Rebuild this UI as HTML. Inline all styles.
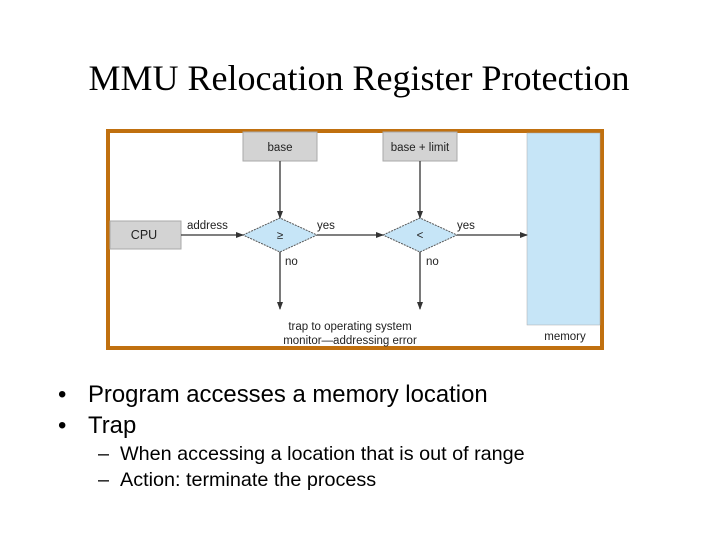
<!DOCTYPE html><html><head><style>body{margin:0;width:720px;height:540px;background:#fff;overflow:hidden;position:relative;font-family:"Liberation Sans",sans-serif}
.t{position:absolute;left:0;width:720px;text-align:center;top:57px;font-family:"Liberation Serif",serif;font-size:36px;margin-left:-1px}
.b{position:absolute;font-size:23.9px}.s{position:absolute;font-size:19.8px}</style></head><body>
<div class="t">MMU Relocation Register Protection</div>
<svg width="720" height="540" style="position:absolute;left:0;top:0" font-family="Liberation Sans, sans-serif" font-size="11.5" fill="#222">
<defs><marker id="a" markerWidth="8" markerHeight="8" refX="7" refY="4" orient="auto" markerUnits="userSpaceOnUse"><path d="M0,1L8,4L0,7z" fill="#333"/></marker></defs>
<rect x="108" y="131" width="494" height="217" fill="#fff" stroke="#c0700f" stroke-width="4"/>
<rect x="527" y="133" width="73" height="192" fill="#c6e5f7" stroke="#aaa" stroke-width="0.5"/>
<rect x="243" y="132" width="74" height="29" fill="#d3d3d3" stroke="#aaa"/>
<rect x="383" y="132" width="74" height="29" fill="#d3d3d3" stroke="#aaa"/>
<rect x="110" y="221" width="71" height="28" fill="#d3d3d3" stroke="#aaa"/>
<polygon points="243,235 280,218 317,235 280,252" fill="#c6e5f7" stroke="#555" stroke-dasharray="2,1"/>
<polygon points="383,235 420,218 457,235 420,252" fill="#c6e5f7" stroke="#555" stroke-dasharray="2,1"/>
<g stroke="#333" stroke-width="1.3" marker-end="url(#a)">
<line x1="280" y1="161" x2="280" y2="218"/><line x1="420" y1="161" x2="420" y2="218"/>
<line x1="181" y1="235" x2="243" y2="235"/><line x1="317" y1="235" x2="383" y2="235"/><line x1="457" y1="235" x2="527" y2="235"/>
<line x1="280" y1="252" x2="280" y2="309"/><line x1="420" y1="252" x2="420" y2="309"/></g>
<text x="280" y="151" text-anchor="middle">base</text><text x="420" y="151" text-anchor="middle">base + limit</text>
<text x="144" y="239" text-anchor="middle" font-size="12.5">CPU</text>
<text x="187" y="229">address</text><text x="317" y="229">yes</text><text x="457" y="229">yes</text>
<text x="285" y="265">no</text><text x="426" y="265">no</text>
<text x="280" y="239" text-anchor="middle">≥</text><text x="420" y="239" text-anchor="middle">&lt;</text>
<text x="350" y="330" text-anchor="middle">trap to operating system</text>
<text x="350" y="344" text-anchor="middle">monitor—addressing error</text>
<text x="565" y="340" text-anchor="middle">memory</text>
</svg>
<div class="b" style="left:58px;top:381px">•</div><div class="b" style="left:88px;top:381px">Program accesses a memory location</div>
<div class="b" style="left:58px;top:412px">•</div><div class="b" style="left:88px;top:412px">Trap</div>
<div class="s" style="left:98px;top:443px">–</div><div class="s" style="left:120px;top:443px">When accessing a location that is out of range</div>
<div class="s" style="left:98px;top:469px">–</div><div class="s" style="left:120px;top:469px">Action: terminate the process</div>
</body></html>
